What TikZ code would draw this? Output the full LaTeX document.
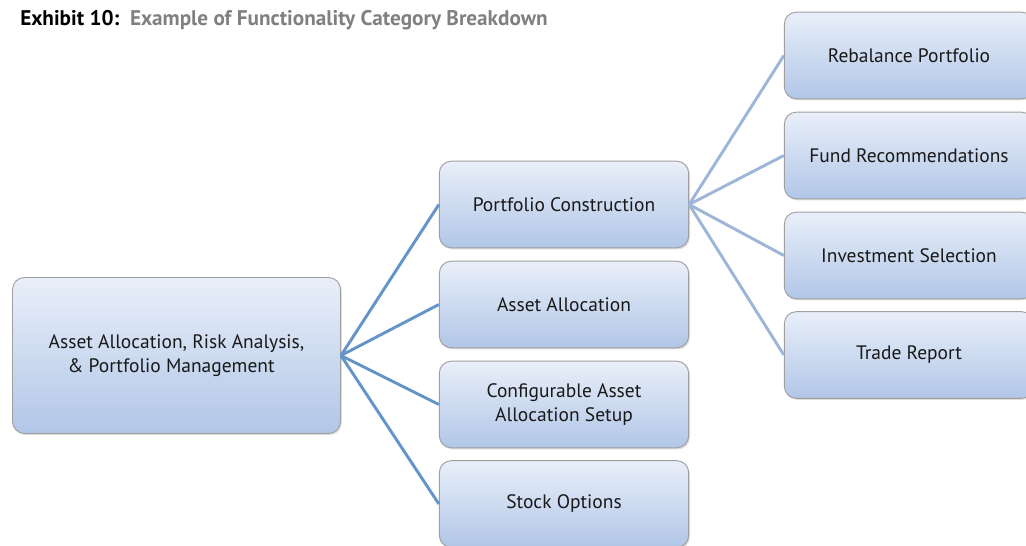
\documentclass[tikz,border=0pt]{standalone}
\usepackage{fontspec}
\setmainfont{PT Sans}
\usetikzlibrary{shadows}

\definecolor{boxtop}{RGB}{233,239,249}
\definecolor{boxbot}{RGB}{177,198,231}
\definecolor{linkdark}{RGB}{100,148,201}
\definecolor{linklight}{RGB}{157,182,216}
\definecolor{titlegray}{RGB}{128,128,128}

\tikzset{
  catbox/.style={draw=gray!75, line width=0.7pt, rounded corners=9pt,
    top color=boxtop, bottom color=boxbot, align=center, text=black!90,
    drop shadow={opacity=0.25, shadow xshift=1pt, shadow yshift=-1.2pt}},
  rootbox/.style={catbox, minimum width=246pt, minimum height=117pt},
  midbox/.style={catbox, minimum width=187pt, minimum height=65pt},
  leafbox/.style={catbox, minimum width=187pt, minimum height=65pt},
  linkmain/.style={draw=linkdark, line width=2.2pt},
  linksub/.style={draw=linklight, line width=2.2pt}
}

\begin{document}
\begin{tikzpicture}[x=0.75pt,y=-0.75pt,font=\fontsize{14.6}{18}\selectfont]
\useasboundingbox (0,0) rectangle (1026,546);

%titolo
\node[anchor=west, inner sep=0pt, font=\bfseries\fontsize{15.9}{18}\selectfont] (title) at (20,20)
  {Exhibit 10:\ \ \textcolor{titlegray}{Example of Functionality Category Breakdown}};

%radice
\node[rootbox] (root) at (176.5,355.5) {Asset Allocation, Risk Analysis,\\\& Portfolio Management\hspace*{8pt}};

%livello 2
\node[midbox] (constr) at (564,204.5) {Portfolio Construction};
\node[midbox] (alloc) at (564,304.5) {Asset Allocation};
\node[midbox] (setup) at (564,404.5) {Configurable Asset\\Allocation Setup};
\node[midbox] (stock) at (564,504) {Stock Options};

%livello 3
\node[leafbox] (rebal) at (909,55.5) {Rebalance Portfolio};
\node[leafbox] (fund) at (909,155.5) {Fund Recommendations};
\node[leafbox] (invest) at (909,255.5) {Investment Selection};
\node[leafbox] (trade) at (909,355) {Trade Report};

%collegamenti
\foreach \n in {constr,alloc,setup,stock}
  \draw[linkmain] (root.east) -- (\n.west);
\foreach \n in {rebal,fund,invest,trade}
  \draw[linksub] (constr.east) -- (\n.west);

\end{tikzpicture}
\end{document}
